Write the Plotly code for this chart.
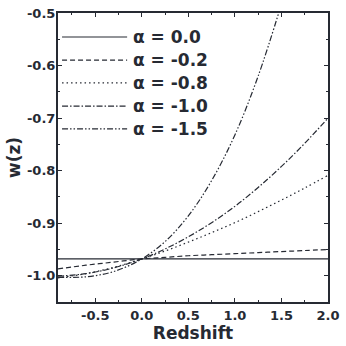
import plotly.graph_objects as go

# redshift grid
z = [-0.9, -0.6, -0.3, 0.0, 0.25, 0.5, 0.75, 1.0, 1.25, 1.5, 1.75, 2.0]

w_a00 = [-0.968, -0.968, -0.968, -0.968, -0.968, -0.968, -0.968, -0.968, -0.968, -0.968, -0.968, -0.968]
w_a02 = [-0.987, -0.980, -0.974, -0.968, -0.965, -0.962, -0.960, -0.958, -0.956, -0.954, -0.952, -0.950]
w_a08 = [-1.004, -0.996, -0.984, -0.968, -0.953, -0.936, -0.918, -0.899, -0.878, -0.856, -0.833, -0.809]
w_a10 = [-1.001, -0.996, -0.985, -0.968, -0.949, -0.926, -0.899, -0.868, -0.832, -0.792, -0.748, -0.700]
z_a15 = [-0.9, -0.6, -0.3, 0.0, 0.25, 0.5, 0.75, 1.0, 1.25, 1.5]
w_a15 = [-1.003, -1.002, -0.992, -0.968, -0.935, -0.886, -0.819, -0.732, -0.620, -0.483]

labels = ["\u03b1 = 0.0", "\u03b1 = -0.2", "\u03b1 = -0.8", "\u03b1 = -1.0", "\u03b1 = -1.5"]
dashes = ["solid", "5px,3px", "1.5px,3px", "6px,2px,1.5px,2px", "6px,2px,1.5px,2px,1.5px,2px"]

# tick labels (plain hyphen, as in the original)
xticks = [-0.5, 0.0, 0.5, 1.0, 1.5, 2.0]
xtick_text = ["-0.5", "0.0", "0.5", "1.0", "1.5", "2.0"]
yticks = [-1.0, -0.9, -0.8, -0.7, -0.6, -0.5]
ytick_text = ["-1.0", "-0.9", "-0.8", "-0.7", "-0.6", "-0.5"]

ink = "#262a33"
fnt = "DejaVu Sans"

series = [(z, w_a00), (z, w_a02), (z, w_a08), (z, w_a10), (z_a15, w_a15)]

fig = go.Figure()
for (xs, ys), lab, d in zip(series, labels, dashes):
    fig.add_trace(go.Scatter(x=xs, y=ys, mode="lines", name=lab,
                             line=dict(color=ink, width=1.2, dash=d, shape="spline"),
                             showlegend=False))

# hand-made legend box in the upper left
leg_y = [0.917, 0.837, 0.758, 0.678, 0.599]
for lab, d, yy in zip(labels, dashes, leg_y):
    fig.add_shape(type="line", xref="paper", yref="paper", x0=0.015, x1=0.256, y0=yy, y1=yy,
                  line=dict(color=ink, width=1.2, dash=d))
    fig.add_annotation(xref="paper", yref="paper", x=0.272, y=yy, text=lab, showarrow=False,
                       xanchor="left", yanchor="middle",
                       font=dict(family=fnt, size=17, weight="bold", color=ink))

axis_common = dict(showline=True, linecolor=ink, linewidth=2, mirror="allticks",
                   ticks="inside", ticklen=4, tickwidth=1, tickcolor=ink,
                   showgrid=False, zeroline=False, automargin=False,
                   tickfont=dict(family=fnt, size=13, weight="bold", color=ink))

fig.update_xaxes(range=[-0.9, 2.0], tickvals=xticks, ticktext=xtick_text,
                 minor=dict(ticks="inside", dtick=0.25, tick0=0, ticklen=2, tickcolor=ink, showgrid=False),
                 title=dict(text="Redshift", standoff=2,
                            font=dict(family=fnt, size=17, weight="bold", color=ink)),
                 **axis_common)
fig.update_yaxes(range=[-1.05, -0.5], tickvals=yticks, ticktext=ytick_text, ticklabelstandoff=-2,
                 minor=dict(ticks="inside", dtick=0.05, tick0=0, ticklen=2, tickcolor=ink, showgrid=False),
                 title=dict(text="w(z)", standoff=2,
                            font=dict(family=fnt, size=17, weight="bold", color=ink)),
                 **axis_common)

fig.update_layout(width=346, height=346, plot_bgcolor="white", paper_bgcolor="white",
                  margin=dict(l=58, r=18, t=13, b=44))

# drop the default 8px body margin of the page
fig.write_html("out.html", config={"displayModeBar": False},
               post_script="document.body.style.margin='0';")
